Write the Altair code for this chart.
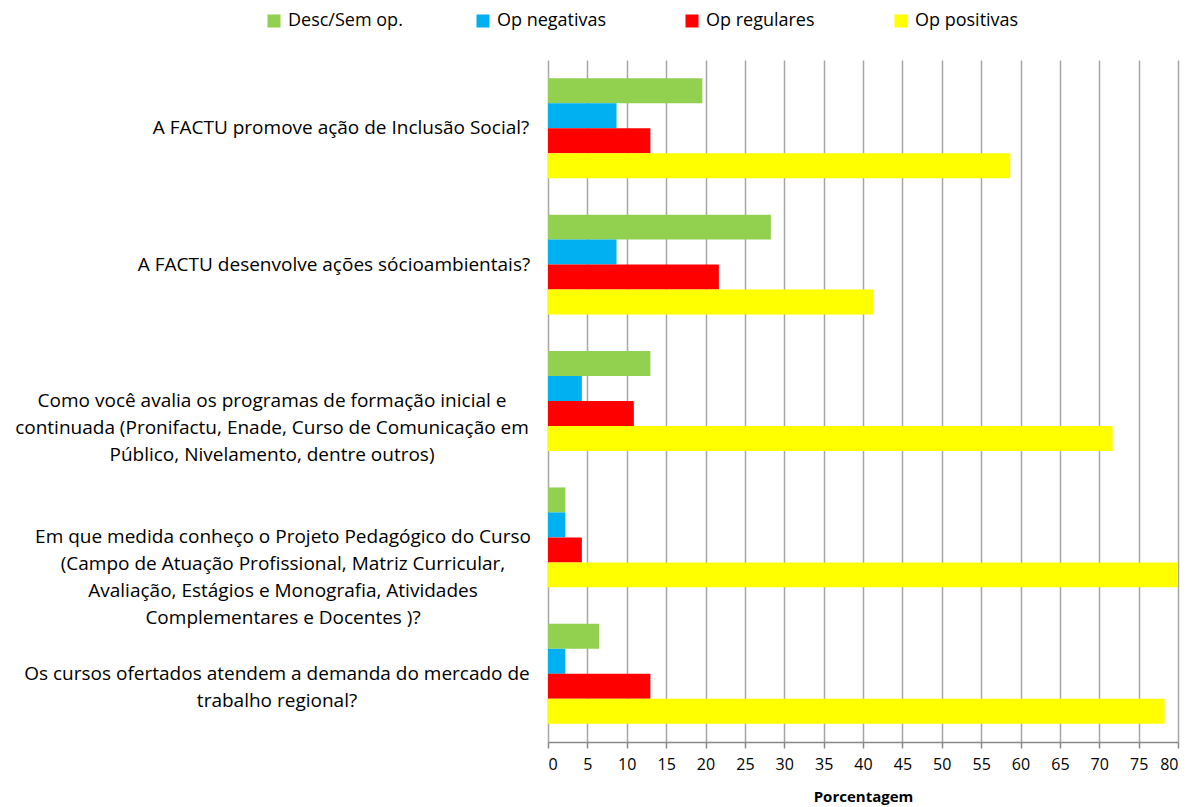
import altair as alt
import pandas as pd

categories = [
    "A FACTU promove ação de Inclusão Social?",
    "A FACTU desenvolve ações sócioambientais?",
    "Como você avalia os programas de formação inicial e\ncontinuada (Pronifactu, Enade, Curso de Comunicação em\nPúblico, Nivelamento, dentre outros)",
    "Em que medida conheço o Projeto Pedagógico do Curso\n(Campo de Atuação Profissional, Matriz Curricular,\nAvaliação, Estágios e Monografia, Atividades\nComplementares e Docentes )?",
    "Os cursos ofertados atendem a demanda do mercado de\ntrabalho regional?",
]
series = ["Desc/Sem op.", "Op negativas", "Op regulares", "Op positivas"]
colors = ["#92D050", "#00B0F0", "#FF0000", "#FFFF00"]

desc_sem_op = [19.6, 28.3, 13.0, 2.2, 6.5]
op_negativas = [8.7, 8.7, 4.3, 2.2, 2.2]
op_regulares = [13.0, 21.7, 10.9, 4.3, 13.0]
op_positivas = [58.7, 41.3, 71.7, 91.3, 78.3]

x_ticks = list(range(0, 81, 5))

# label block centers, in pixels from the plot's left edge (layout only)
label_centers = [-207, -214, -276, -265, -271]

FONT = "Open Sans"

values = [desc_sem_op, op_negativas, op_regulares, op_positivas]
rows = []
for s, vals in zip(series, values):
    for c, v in zip(categories, vals):
        rows.append({"cat": c, "serie": s, "valor": v})
df = pd.DataFrame(rows)
df_lab = pd.DataFrame({"cat": categories, "lx": label_centers})

y_enc = alt.Y("cat:N", sort=categories,
              scale=alt.Scale(paddingInner=0, paddingOuter=0),
              axis=alt.Axis(labels=False, title=None, ticks=True, tickBand="extent",
                            tickSize=8, tickColor="#888888", domainColor="#888888",
                            domainWidth=1.5, tickWidth=1.5))

bars = alt.Chart(df).mark_bar(clip=True).encode(
    x=alt.X("valor:Q",
            scale=alt.Scale(domain=[0, 80], nice=False, zero=True),
            axis=alt.Axis(values=x_ticks, title="Porcentagem", grid=True,
                          gridColor="#A6A6A6", gridWidth=1.5,
                          domainColor="#888888", domainWidth=1.5,
                          tickColor="#888888", tickWidth=1.5, tickSize=6,
                          labelFont=FONT, labelFontSize=16, labelColor="#000000",
                          labelPadding=8, titleFont=FONT, titleFontSize=15,
                          titleFontWeight="bold", titleColor="#000000",
                          titlePadding=17)),
    y=y_enc,
    yOffset=alt.YOffset("serie:N", sort=series,
                        scale=alt.Scale(paddingOuter=0.73, paddingInner=0)),
    color=alt.Color("serie:N", sort=series,
                    scale=alt.Scale(domain=series, range=colors),
                    legend=alt.Legend(title=None, orient="none", direction="horizontal",
                                      columns=4, gridAlign="all", columnPadding=71,
                                      legendX=-283, legendY=-48,
                                      symbolType="square", symbolSize=170,
                                      symbolStrokeWidth=0, labelFont=FONT,
                                      labelFontSize=18, labelColor="#000000",
                                      labelOffset=5)),
)

labels = alt.Chart(df_lab).mark_text(
    align="center", baseline="middle", lineBreak="\n", font=FONT,
    fontSize=19, lineHeight=27, color="#000000"
).encode(
    x=alt.X("lx:Q", scale=None, axis=None),
    y=alt.Y("cat:N", sort=categories, axis=None),
    text="cat:N",
)

chart = alt.layer(bars, labels).resolve_scale(x="independent").properties(
    width=630, height=682,
    autosize=alt.AutoSizeParams(type="none"),
    padding={"left": 540, "top": 52, "right": 9, "bottom": 64},
).configure_view(stroke=None)

chart.save("out.html", embed_options={"renderer": "svg", "actions": False})
